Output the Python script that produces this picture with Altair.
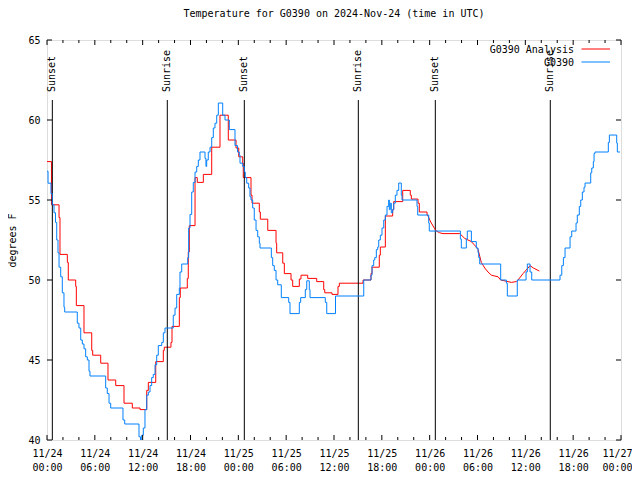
import altair as alt
import pandas as pd

# hours since 2024-11-24 00:00 UTC
obs_hours = [0.00, 0.13, 0.50, 0.66, 0.88, 1.07, 1.22, 1.38, 1.51, 1.72, 1.92, 2.13, 2.22, 3.80, 4.01,
             4.23, 4.43, 4.64, 4.85, 5.06, 5.27, 5.39, 7.36, 7.56, 7.78, 7.99, 9.53, 9.75, 11.54, 11.73,
             11.88, 12.08, 12.29, 12.51, 12.71, 12.92, 13.13, 13.33, 13.55, 13.76, 13.96, 14.39, 14.59,
             14.80, 15.84, 16.06, 16.27, 16.60, 16.68, 16.90, 17.65, 17.77, 17.94, 18.15, 18.35, 18.57,
             18.78, 18.98, 19.19, 19.82, 19.94, 20.03, 20.23, 20.45, 20.66, 20.86, 21.07, 21.29, 21.49,
             22.04, 22.33, 22.87, 23.58, 23.90, 24.12, 24.21, 24.55, 24.75, 24.87, 25.05, 25.30, 25.46,
             25.59, 25.80, 26.00, 26.22, 26.43, 26.63, 26.72, 28.14, 28.31, 28.51, 28.73, 28.94, 29.39,
             30.32, 30.48, 31.65, 31.82, 32.40, 32.58, 32.90, 32.99, 34.91, 35.09, 36.19, 39.73, 40.64,
             40.77, 40.98, 41.11, 41.31, 41.48, 41.61, 41.81, 42.02, 42.24, 42.44, 42.65, 42.86, 42.94,
             43.06, 43.19, 43.36, 43.49, 43.69, 43.90, 44.12, 44.44, 44.53, 46.41, 46.50, 47.88, 47.95,
             51.85, 51.97, 52.60, 52.72, 53.23, 53.85, 54.07, 54.15, 54.28, 56.91, 57.62, 57.74, 58.99,
             60.09, 60.25, 60.59, 60.80, 64.35, 64.57, 64.77, 64.98, 65.61, 65.82, 66.36, 66.52, 66.77,
             66.95, 67.15, 67.36, 67.49, 68.20, 68.33, 68.53, 68.62, 68.74, 70.41, 70.54, 71.46, 71.54,
             71.88]
obs_temp = [56.8, 56.05, 55.4, 54.7, 54.2, 53.6, 52.5, 51.7, 50.8, 50.2, 49.2, 48.3, 48.0, 47.3, 47.0,
            46.25, 46.0, 45.7, 45.2, 45.0, 44.3, 44.0, 43.25, 42.9, 42.3, 42.0, 41.25, 41.0, 40.2, 39.6,
            40.3, 40.75, 41.9, 42.8, 43.0, 43.4, 43.9, 44.1, 44.7, 45.3, 45.9, 46.1, 46.7,
            47.0, 47.8, 48.25, 49.1, 49.5, 50.5, 51.0, 51.4, 53.25, 54.1, 55.5, 56.1, 56.75,
            57.1, 57.5, 58.0, 57.6, 57.1, 57.5, 58.0, 58.3, 58.9, 59.5, 59.8, 60.3, 61.06,
            60.3, 60.0, 59.4, 58.4, 58.0, 57.8, 57.3, 57.1, 56.75, 56.4, 56.05, 55.75, 55.2,
            55.0, 54.5, 53.75, 53.1, 52.7, 52.3, 52.0, 51.4, 50.9, 50.6, 50.0, 49.7, 48.9,
            48.6, 47.9, 48.6, 48.9, 49.4, 49.95, 49.4, 48.9, 48.6, 47.9, 49.0, 50.0, 50.3,
            50.9, 51.25, 51.4, 51.9, 52.06, 52.5, 52.8, 53.25, 53.75, 54.06, 54.6, 55.0, 54.4,
            54.8, 54.2, 54.4, 54.8, 55.3, 55.6, 56.06, 55.3, 55.0, 54.6, 54.06, 53.56, 53.06,
            52.56, 52.0, 52.56, 53.06, 52.4, 52.0, 51.7, 51.4, 51.0, 50.0, 49.8, 49.0, 50.0,
            50.5, 51.0, 50.5, 50.0, 50.3, 50.9, 51.4, 52.0, 52.7, 53.06, 53.56, 54.06, 54.6,
            55.0, 55.5, 55.8, 56.06, 56.7, 57.0, 57.4, 57.9, 58.0, 58.6, 59.06, 58.56, 58.0,
            58.0]

ana_step_hours = [0.00, 0.56, 1.51, 1.63, 2.55, 2.67, 3.60, 3.68, 4.64, 5.61, 5.73, 6.74, 7.65, 8.62,
                  9.66, 10.70, 11.67, 12.51, 12.71, 13.64, 14.59, 14.71, 15.55, 15.68, 16.60, 16.72,
                  17.60, 17.72, 17.85, 18.57, 18.85, 19.61, 20.66, 21.70, 22.74, 23.71, 24.05, 24.55,
                  24.62, 25.59, 25.72, 26.63, 26.76, 27.69, 28.73, 28.81, 29.57, 29.77, 30.61, 30.82,
                  31.65, 31.86, 32.70, 33.83, 34.71, 34.84, 35.75, 36.50, 36.67, 39.64, 40.64, 40.77,
                  41.68, 41.81, 42.44, 43.36, 43.49, 44.62, 45.57, 45.70, 46.54, 46.70, 47.67]
ana_step_temp = [57.4, 54.7, 53.9, 51.6, 51.1, 50.0, 49.6, 48.4, 46.7, 45.6, 45.3, 44.8, 43.75, 43.4,
                 42.3, 42.0, 41.9, 43.1, 43.6, 44.9, 45.6, 45.8, 46.1, 47.1, 48.9, 49.5,
                 50.1, 51.75, 53.4, 56.4, 56.1, 56.6, 58.3, 60.3, 58.75, 58.25, 57.7, 57.3,
                 56.4, 55.3, 54.8, 54.25, 53.8, 53.1, 52.3, 51.7, 51.05, 50.4, 50.0, 49.6,
                 50.06, 50.3, 50.1, 49.9, 49.4, 49.2, 49.1, 49.6, 49.8, 50.0, 50.4, 50.8,
                 51.55, 52.06, 54.0, 54.4, 54.9, 55.6, 55.3, 55.06, 54.8, 54.25, 54.06]

ana_lin_hours = [47.67, 47.80, 48.01, 48.21, 48.63, 48.83, 49.26, 49.67, 51.77, 52.40, 53.23, 53.85,
                 54.07, 54.48, 54.91, 55.32, 55.74, 56.58, 56.91, 57.83, 58.24, 58.87, 59.08, 59.71,
                 60.34, 60.59, 61.01, 61.76]
ana_lin_temp = [54.06, 54.0, 53.75, 53.56, 53.2, 53.06, 52.95, 52.9, 52.9, 52.6, 52.4, 52.06,
                51.9, 51.1, 50.75, 50.5, 50.3, 50.2, 50.0, 49.9, 49.85, 49.9, 50.0, 50.4,
                50.75, 50.9, 50.75, 50.56]

event_hours = [0.67, 15.09, 24.75, 39.05, 48.71, 63.13]
event_labels = ["Sunset", "Sunrise", "Sunset", "Sunrise", "Sunset", "Sunrise"]

major_x_ticks = list(range(0, 73, 6))
minor_x_ticks = [h for h in range(0, 73, 2) if h % 6 != 0]
y_ticks = [40, 45, 50, 55, 60, 65]

FONT = "DejaVu Sans Mono"
RED = "#ff0000"
BLUE = "#0080ff"
W, H = 574, 400

obs = pd.DataFrame({"h": obs_hours, "t": obs_temp})
ana_s = pd.DataFrame({"h": ana_step_hours, "t": ana_step_temp})
ana_l = pd.DataFrame({"h": ana_lin_hours, "t": ana_lin_temp})
events = pd.DataFrame({"h": event_hours, "label": event_labels})
majx = pd.DataFrame({"h": major_x_ticks})
minx = pd.DataFrame({"h": minor_x_ticks})
yt = pd.DataFrame({"t": y_ticks})

xscale = alt.Scale(domain=[0, 72], nice=False, zero=False)
yscale = alt.Scale(domain=[40, 65], nice=False, zero=False)

label_expr = ("['11/' + (24 + floor(datum.value / 24)), "
              "((datum.value % 24) < 10 ? '0' : '') + (datum.value % 24) + ':00']")

X = alt.X("h:Q", scale=xscale, axis=alt.Axis(
    values=major_x_ticks, labelExpr=label_expr, ticks=False, domain=False, grid=False,
    title=None, labelFont=FONT, labelFontSize=10, labelColor="black", labelPadding=8,
    labelLineHeight=14, labelAngle=0, labelOverlap=False, labelFlush=False, labelBaseline="top",
    labelOffset={"condition": {"test": "datum.value == 72", "value": -4}, "value": 0}))
Y = alt.Y("t:Q", scale=yscale, axis=alt.Axis(
    values=y_ticks, ticks=False, domain=False, grid=False, title="degrees F",
    titleFont=FONT, titleFontSize=10, titleFontWeight="normal", titleColor="black",
    titlePadding=10, labelFont=FONT, labelFontSize=10, labelColor="black", labelPadding=7))

ev_rules = alt.Chart(events).mark_rule(color="black", strokeWidth=1).encode(
    x=X, y=alt.value(60), y2=alt.value(H))
ev_text = alt.Chart(events).mark_text(angle=270, align="left", baseline="middle",
                                      font=FONT, fontSize=10, color="black").encode(
    x=X, y=alt.value(52), text="label:N")

red_step = alt.Chart(ana_s).mark_line(interpolate="step-after", color=RED, strokeWidth=1,
                                      clip=True).encode(x=X, y=Y)
red_lin = alt.Chart(ana_l).mark_line(color=RED, strokeWidth=1, clip=True).encode(x=X, y=Y)
blue = alt.Chart(obs).mark_line(interpolate="step-after", color=BLUE, strokeWidth=1,
                                clip=True).encode(x=X, y=Y)

tick_style = dict(color="black", strokeWidth=1)
t_maj_b = alt.Chart(majx).mark_rule(**tick_style).encode(x=X, y=alt.value(H), y2=alt.value(H - 5))
t_maj_t = alt.Chart(majx).mark_rule(**tick_style).encode(x=X, y=alt.value(0), y2=alt.value(5))
t_min_b = alt.Chart(minx).mark_rule(**tick_style).encode(x=X, y=alt.value(H), y2=alt.value(H - 3))
t_min_t = alt.Chart(minx).mark_rule(**tick_style).encode(x=X, y=alt.value(0), y2=alt.value(3))
t_y_l = alt.Chart(yt).mark_rule(**tick_style).encode(y=Y, x=alt.value(0), x2=alt.value(5))
t_y_r = alt.Chart(yt).mark_rule(**tick_style).encode(y=Y, x=alt.value(W), x2=alt.value(W - 5))

leg_names = pd.DataFrame({"name": ["G0390 Analysis"]})
leg_names2 = pd.DataFrame({"name": ["G0390"]})
leg_t1 = alt.Chart(leg_names).mark_text(align="right", baseline="middle", font=FONT,
                                        fontSize=10, color="black").encode(
    x=alt.value(527), y=alt.value(9.5), text="name:N")
leg_t2 = alt.Chart(leg_names2).mark_text(align="right", baseline="middle", font=FONT,
                                         fontSize=10, color="black").encode(
    x=alt.value(527), y=alt.value(22.5), text="name:N")
leg_l1 = alt.Chart(leg_names).mark_rule(color=RED, strokeWidth=1).encode(
    x=alt.value(534.5), x2=alt.value(563), y=alt.value(9))
leg_l2 = alt.Chart(leg_names2).mark_rule(color=BLUE, strokeWidth=1).encode(
    x=alt.value(534.5), x2=alt.value(563), y=alt.value(22))

chart = alt.layer(
    red_step, ev_rules, ev_text, red_lin, blue,
    t_maj_b, t_maj_t, t_min_b, t_min_t, t_y_l, t_y_r,
    leg_t1, leg_t2, leg_l1, leg_l2,
).properties(
    width=W, height=H,
    title=alt.TitleParams("Temperature for G0390 on 2024-Nov-24 (time in UTC)", font=FONT,
                          fontSize=10, fontWeight="normal", color="black", anchor="middle",
                          offset=16),
    autosize=alt.AutoSizeParams(type="none"),
    padding={"left": 39, "top": 32, "right": 11, "bottom": 32},
).configure_view(stroke="black", strokeWidth=1).configure(background="white")

chart.save("out.html", embed_options={"renderer": "svg", "actions": False})
